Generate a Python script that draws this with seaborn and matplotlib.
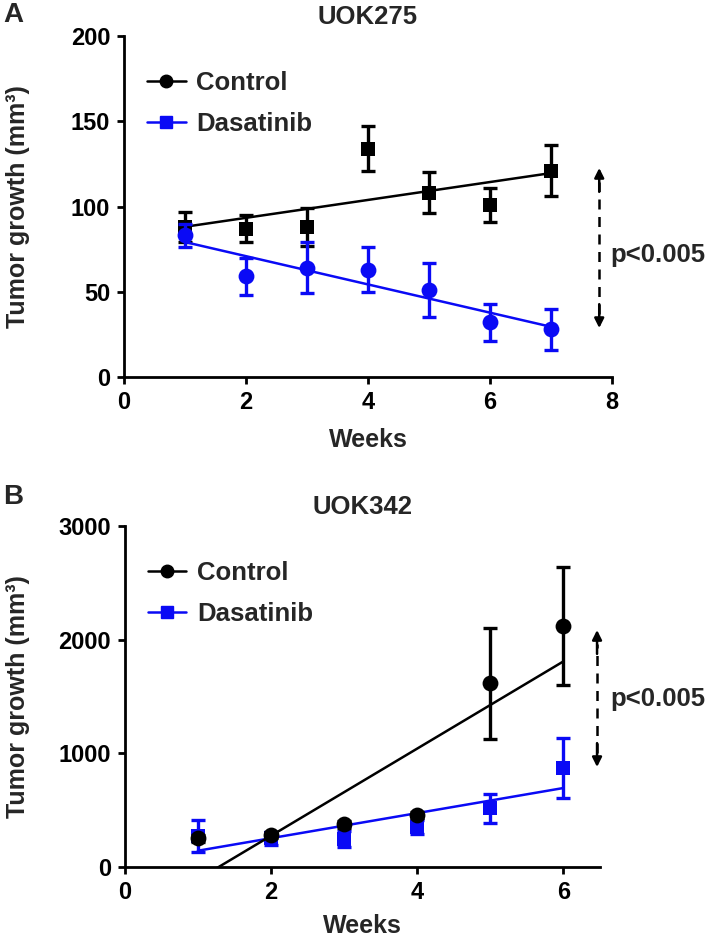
import numpy as np
import pandas as pd
import seaborn as sns
import matplotlib.pyplot as plt
from matplotlib.lines import Line2D

sns.set_style("ticks")
plt.rcParams['font.family'] = ['Liberation Sans', 'DejaVu Sans']
plt.rcParams['font.weight'] = 'bold'
plt.rcParams['axes.labelweight'] = 'bold'
plt.rcParams['axes.titleweight'] = 'bold'

# panel A - UOK275
weeks_a = [1, 2, 3, 4, 5, 6, 7]
ctrl_a = [88, 87, 88, 134, 108, 101, 121]
ctrl_a_err = [9, 8, 11, 13, 12, 10, 15]
dasa_a = [83, 59, 64, 63, 51, 32, 28]
dasa_a_err = [7, 11, 15, 13, 16, 11, 12]

# panel B - UOK342
weeks_b = [1, 2, 3, 4, 5, 6]
ctrl_b = [252, 282, 375, 457, 1616, 2120]
ctrl_b_err = [30, 30, 30, 30, 490, 520]
dasa_b = [275, 252, 250, 355, 516, 868]
dasa_b_err = [140, 55, 70, 60, 130, 265]

BLUE = "#0a0af5"
FS_TICK = 17
FS_LAB = 18
FS_BIG = 18.5


def draw_group(ax, x, y, err, color, marker, ms, z):
    sns.regplot(x=x, y=y, ax=ax, ci=None, scatter=False, truncate=True,
                line_kws=dict(color=color, lw=1.8, zorder=z))
    ax.errorbar(x, y, yerr=err, fmt='none', ecolor=color, elinewidth=2.4,
                capsize=5, capthick=2.4, zorder=z + 1)
    sns.scatterplot(x=x, y=y, ax=ax, marker=marker, color=color, s=ms,
                    edgecolor=color, linewidth=0, zorder=z + 2, legend=False)


def style_axis(ax, title, xmax, ymax, yticks):
    ax.set_xlim(0, xmax)
    ax.set_ylim(0, ymax)
    ax.set_xticks([0, 2, 4, 6, 8] if xmax >= 8 else [0, 2, 4, 6])
    ax.set_yticks(yticks)
    sns.despine(ax=ax)
    for s in ['left', 'bottom']:
        ax.spines[s].set_linewidth(2)
        ax.spines[s].set_color('black')
    ax.tick_params(width=2, length=5, labelsize=FS_TICK, pad=5, colors='black')
    for lab in ax.get_xticklabels() + ax.get_yticklabels():
        lab.set_fontweight('bold')
    ax.set_title(title, fontsize=FS_BIG, fontweight='bold', pad=9)
    ax.set_xlabel("Weeks", fontsize=FS_LAB, fontweight='bold')
    ax.set_ylabel("Tumor growth (mm³)", fontsize=FS_LAB, fontweight='bold')
    handles = [
        Line2D([0], [0], color='black', lw=1.8, marker='o', ms=9),
        Line2D([0], [0], color=BLUE, lw=1.8, marker='s', ms=8),
    ]
    ax.legend(handles, ["Control", "Dasatinib"], loc='upper left',
              bbox_to_anchor=(0.0, 0.965), frameon=False,
              prop=dict(size=FS_BIG, weight='bold'),
              handlelength=1.5, handletextpad=0.4, labelspacing=0.65)


def sig_arrow(ax, x, y0, y1, tx, ty, yrange):
    head = 0.07 * yrange
    ax.plot([x, x], [y0 + head * 0.6, y1 - head * 0.6], color='black', lw=1.8,
            ls=(0, (4, 3)), clip_on=False)
    ax.annotate('', xy=(x, y1), xytext=(x, y1 - head), annotation_clip=False,
                arrowprops=dict(arrowstyle='-|>', color='black', lw=1.8,
                                mutation_scale=14, shrinkA=0, shrinkB=0))
    ax.annotate('', xy=(x, y0), xytext=(x, y0 + head), annotation_clip=False,
                arrowprops=dict(arrowstyle='-|>', color='black', lw=1.8,
                                mutation_scale=14, shrinkA=0, shrinkB=0))
    ax.text(tx, ty, "p<0.005", fontsize=FS_BIG, fontweight='bold',
            va='center', ha='left', clip_on=False)


fig = plt.figure(figsize=(7.14, 9.41), dpi=100)
axA = fig.add_axes([0.1737, 0.5994, 0.6835, 0.3623])
axB = fig.add_axes([0.1748, 0.0786, 0.6655, 0.3624])

# A: control drawn with squares, dasatinib with circles (as in the figure)
draw_group(axA, weeks_a, ctrl_a, ctrl_a_err, 'black', 's', 110, 3)
draw_group(axA, weeks_a, dasa_a, dasa_a_err, BLUE, 'o', 130, 6)
style_axis(axA, "UOK275", 8, 200, [0, 50, 100, 150, 200])
sig_arrow(axA, 7.79, 28.7, 122.6, 7.97, 71.5, 200)

# B
draw_group(axB, weeks_b, dasa_b, dasa_b_err, BLUE, 's', 110, 3)
draw_group(axB, weeks_b, ctrl_b, ctrl_b_err, 'black', 'o', 130, 6)
style_axis(axB, "UOK342", 6.5, 3000, [0, 1000, 2000, 3000])
sig_arrow(axB, 6.46, 880, 2085, 6.64, 1480, 3000)

axA.yaxis.set_label_coords(-0.193, 0.5)
axB.yaxis.set_label_coords(-0.199, 0.5)
axA.xaxis.set_label_coords(0.5, -0.15)
axB.xaxis.set_label_coords(0.5, -0.138)

fig.text(0.004, 0.984, "A", fontsize=20, fontweight='bold', va='center')
fig.text(0.004, 0.472, "B", fontsize=20, fontweight='bold', va='center')

fig.savefig("out.png", dpi=100)
